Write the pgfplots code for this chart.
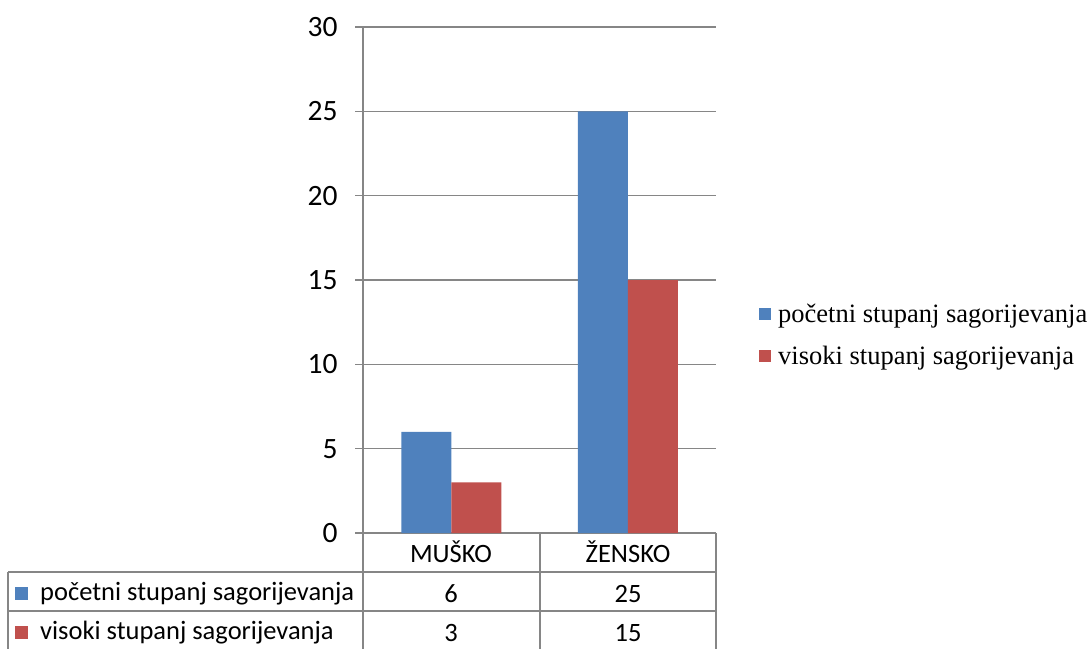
\documentclass[border=0pt]{standalone}
\usepackage{pgfplots}
\pgfplotsset{compat=1.18}
\usepackage{fontspec}
\setmainfont{Carlito}
\newfontfamily\tnr{Liberation Serif}
\definecolor{c1}{HTML}{4F81BD}
\definecolor{c2}{HTML}{C0504D}
\definecolor{gridc}{HTML}{868686}
\newcommand\bigfs{\fontsize{26.5}{30}\selectfont}
\newcommand\tickfs{\fontsize{29.5}{32}\selectfont}
\begin{document}
\begin{tikzpicture}
\path[use as bounding box] (0pt,0pt) rectangle (1091pt,649pt);
\begin{axis}[
  at={(363pt,116pt)}, anchor=south west,
  scale only axis, width=353pt, height=506pt,
  ybar=0pt, bar width=50pt,
  xmin=-0.5, xmax=1.5,
  ymin=0, ymax=30,
  ytick={0,5,...,30},
  axis x line=none,
  axis y line*=left,
  y axis line style={-, draw=gridc, line width=1.2pt},
  ymajorgrids=true,
  grid style={gridc, line width=1.2pt},
  major tick style={gridc, line width=1.2pt},
  tick align=outside, major tick length=8pt,
  /pgf/number format/assume math mode=true,
  yticklabel style={font=\tickfs, xshift=-14pt},
  legend style={at={(rel axis cs:1,0.392)}, anchor=west, xshift=40pt,
    draw=none, fill=none, font=\tnr\bigfs, row sep=18pt,
    legend cell align=left},
  legend image code/.code={\fill[#1] (0pt,-6pt) rectangle (12pt,6pt);
    \path (17pt,0pt);},
  clip=false,
]
\addplot[fill=c1, draw=none] coordinates {(0,6) (1,25)};
\addplot[fill=c2, draw=none] coordinates {(0,3) (1,15)};
\legend{početni stupanj sagorijevanja, visoki stupanj sagorijevanja}
\end{axis}
% data table
\begin{scope}[gridc, line width=1.2pt]
\draw (8pt,77pt) -- (716pt,77pt);
\draw (8pt,38pt) -- (716pt,38pt);
\draw (8pt,77pt) -- (8pt,0pt);
\draw (363pt,116pt) -- (363pt,0pt);
\draw (540pt,116pt) -- (540pt,0pt);
\draw (716pt,116pt) -- (716pt,0pt);
\end{scope}
\node[font=\bigfs] at (451pt,97.5pt) {MUŠKO};
\node[font=\bigfs] at (628pt,97.5pt) {ŽENSKO};
\fill[c1] (15pt,49pt) rectangle (28pt,62pt);
\fill[c2] (15pt,10pt) rectangle (28pt,23pt);
\node[font=\bigfs, anchor=west, inner sep=0pt] at (40pt,55pt) {početni stupanj sagorijevanja};
\node[font=\bigfs, anchor=west, inner sep=0pt] at (40pt,16pt) {visoki stupanj sagorijevanja};
\node[font=\bigfs] at (451pt,55pt) {6};
\node[font=\bigfs] at (628pt,55pt) {25};
\node[font=\bigfs] at (451pt,16pt) {3};
\node[font=\bigfs] at (628pt,16pt) {15};
\end{tikzpicture}
\end{document}
